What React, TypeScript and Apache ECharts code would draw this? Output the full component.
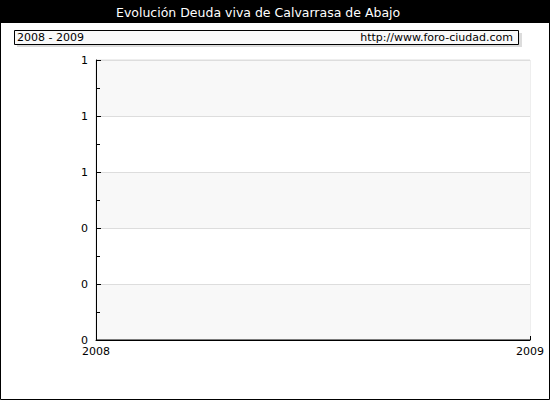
import React, { useEffect, useRef } from 'react';
import * as echarts from 'echarts';

// datos del gráfico
const years = [2008, 2009];
const deudaViva = [0, 0];
const yTicks = [0, 0.2, 0.4, 0.6, 0.8, 1];

const titleText = 'Evolución Deuda viva de Calvarrasa de Abajo';
const periodText = '2008 - 2009';
const siteText = 'http://www.foro-ciudad.com';

const FONT = '"DejaVu Sans", Verdana, sans-serif';

const App: React.FC = () => {
  const chartRef = useRef<HTMLDivElement>(null);

  useEffect(() => {
    document.body.style.margin = '0';
    if (!chartRef.current) return;
    const chart = echarts.init(chartRef.current, undefined, { renderer: 'svg' });

    const option = {
      animation: false,
      backgroundColor: '#fff',
      textStyle: { fontFamily: FONT },
      title: {
        text: titleText,
        left: 116,
        top: 2,
        padding: 0,
        textStyle: { color: '#fff', fontSize: 12.5, fontWeight: 'normal', fontFamily: FONT, lineHeight: 20 }
      },
      graphic: [
        // barra del título
        { type: 'rect', z: -1, shape: { x: 0, y: 0, width: 550, height: 23 }, style: { fill: '#000' } },
        // caja de periodo con sombra
        { type: 'rect', shape: { x: 17, y: 33, width: 505, height: 14 }, style: { fill: '#dcdcdc' } },
        { type: 'rect', shape: { x: 14.5, y: 30.5, width: 504, height: 14 }, style: { fill: '#f9f9f9', stroke: '#000', lineWidth: 1 } },
        { type: 'text', x: 17, y: 37.5, style: { text: periodText, fill: '#000', fontSize: 11, fontFamily: FONT, verticalAlign: 'middle' } },
        { type: 'text', x: 513, y: 37.5, style: { text: siteText, fill: '#000', fontSize: 11, fontFamily: FONT, align: 'right', verticalAlign: 'middle' } },
        // marco exterior
        { type: 'rect', z: 100, shape: { x: 0.5, y: 0.5, width: 549, height: 399 }, style: { fill: 'none', stroke: '#000', lineWidth: 1 } }
      ],
      grid: {
        left: 96,
        right: 20,
        top: 60,
        bottom: 60,
        show: true,
        borderColor: '#dddddd',
        borderWidth: 1,
        backgroundColor: 'transparent'
      },
      xAxis: {
        type: 'value',
        min: years[0],
        max: years[years.length - 1],
        interval: 1,
        axisLine: { show: true, lineStyle: { color: '#000', width: 1 } },
        axisTick: { show: true, inside: true, length: 4, lineStyle: { color: '#000' } },
        axisLabel: { color: '#000', fontSize: 11, margin: 6, fontFamily: FONT, formatter: (v: number) => String(v) },
        splitLine: { show: false }
      },
      yAxis: {
        type: 'value',
        min: yTicks[0],
        max: yTicks[yTicks.length - 1],
        interval: 0.2,
        axisLine: { show: true, lineStyle: { color: '#000', width: 1 } },
        axisTick: { show: true, inside: true, length: 5, lineStyle: { color: '#000' } },
        minorTick: { show: true, splitNumber: 2, length: 4, lineStyle: { color: '#000' } },
        axisLabel: { color: '#000', fontSize: 11, margin: 8, fontFamily: FONT, formatter: (v: number) => String(Math.round(v)) },
        splitLine: { show: true, lineStyle: { color: '#dddddd', width: 1 } },
        splitArea: { show: true, areaStyle: { color: ['#f8f8f8', '#ffffff'] } }
      },
      series: [
        {
          type: 'line',
          name: 'Deuda viva',
          data: years.map((y, i) => [y, deudaViva[i]]),
          showSymbol: false,
          lineStyle: { color: '#000', width: 1 },
          z: 1
        }
      ]
    };

    chart.setOption(option);
    return () => {
      chart.dispose();
    };
  }, []);

  return <div ref={chartRef} style={{ width: 550, height: 400 }} />;
};

export default App;
